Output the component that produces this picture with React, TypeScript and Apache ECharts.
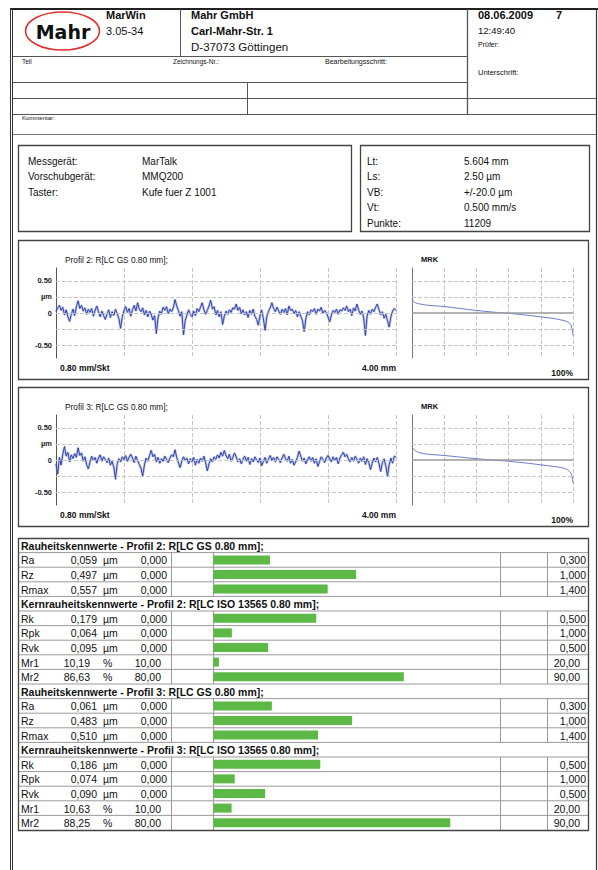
import React, { useEffect, useRef } from 'react';
import * as echarts from 'echarts';

const FONT = '"Liberation Sans", Arial, Helvetica, sans-serif';

// ---------- header / info data ----------
const deviceLabels = ['Messgerät:', 'Vorschubgerät:', 'Taster:'];
const deviceValues = ['MarTalk', 'MMQ200', 'Kufe fuer Z 1001'];
const paramLabels = ['Lt:', 'Ls:', 'VB:', 'Vt:', 'Punkte:'];
const paramValues = ['5.604 mm', '2.50 µm', '+/-20.0 µm', '0.500 mm/s', '11209'];

// ---------- profile data (µm), sampled every 0.02 mm over 4.00 mm ----------
const profileStep = 0.02;
const profile2 = [
  0.02, 0.08, 0.12, 0.04, 0.09, -0.03, 0.05, -0.06, -0.13, -0.02,
  0.06, -0.04, 0.10, 0.19, 0.07, 0.12, 0.03, 0.08, -0.02, 0.06,
  0.01, 0.07, -0.05, 0.04, 0.11, 0.02, -0.06, 0.03, -0.04, -0.10,
  -0.02, 0.05, -0.07, 0.02, -0.04, 0.06, -0.01, -0.09, -0.24, -0.06,
  0.04, 0.10, 0.01, 0.07, -0.05, 0.05, 0.12, 0.03, 0.16, 0.06,
  0.02, 0.08, -0.03, 0.04, -0.06, 0.03, -0.02, -0.11, -0.04, -0.32,
  -0.08, 0.03, -0.02, 0.09, 0.04, 0.10, -0.01, 0.06, 0.02, 0.08,
  0.21, 0.11, 0.04, -0.05, 0.02, -0.34, -0.12, -0.03, 0.05, -0.02,
  -0.06, 0.03, -0.04, 0.07, 0.02, 0.09, 0.16, 0.05, -0.02, 0.04,
  0.11, 0.20, 0.06, 0.10, -0.03, 0.04, -0.06, 0.02, -0.18, -0.05,
  0.03, -0.02, 0.05, 0.01, 0.08, 0.06, 0.14, 0.04, 0.09, -0.01,
  0.05, -0.03, 0.02, -0.07, 0.04, -0.02, 0.06, -0.05, -0.10, -0.19,
  -0.04, 0.05, -0.09, -0.27, -0.06, 0.03, 0.08, 0.16, 0.07, 0.02,
  0.09, 0.03, -0.02, 0.06, 0.01, 0.07, -0.03, 0.11, 0.04, 0.06,
  -0.01, 0.04, -0.06, 0.02, -0.05, -0.12, -0.29, -0.08, 0.02, -0.03,
  0.05, 0.02, 0.07, -0.02, 0.06, 0.03, 0.09, -0.01, 0.04, 0.01,
  -0.06, -0.14, -0.03, 0.04, 0.01, 0.06, -0.02, 0.05, 0.03, 0.08,
  0.04, 0.11, 0.02, 0.06, -0.04, 0.08, 0.03, 0.14, 0.05, -0.02,
  0.03, -0.08, -0.35, -0.05, 0.04, -0.02, 0.06, 0.02, 0.09, 0.14,
  0.05, -0.03, 0.02, -0.08, -0.02, -0.12, -0.22, -0.06, 0.03, 0.07,
  0.04,
];
const profile3 = [
  -0.06, -0.22, 0.04, -0.08, 0.09, 0.21, 0.06, 0.12, -0.03, 0.08,
  0.02, 0.10, 0.04, 0.19, 0.07, 0.11, -0.02, 0.05, -0.07, -0.14,
  -0.03, 0.06, -0.01, 0.04, -0.05, 0.03, 0.08, -0.02, 0.05, 0.01,
  -0.04, 0.03, -0.08, -0.02, -0.11, -0.30, -0.06, 0.02, -0.03, 0.05,
  0.01, 0.07, -0.02, 0.04, 0.09, 0.03, -0.04, 0.06, -0.01, -0.07,
  -0.13, -0.25, -0.08, 0.03, -0.02, 0.07, 0.15, 0.05, 0.09, -0.03,
  0.04, -0.05, 0.02, -0.02, 0.06, 0.01, -0.04, 0.03, 0.08, 0.05,
  0.16, 0.04, -0.04, -0.12, -0.02, 0.05, -0.01, 0.03, -0.06, 0.02,
  -0.03, 0.04, -0.08, 0.01, -0.05, 0.03, -0.02, 0.06, -0.04, -0.17,
  -0.06, 0.02, -0.03, 0.05, 0.01, 0.08, 0.03, 0.12, 0.06, 0.15,
  0.07, 0.02, 0.09, -0.02, 0.04, 0.11, 0.05, -0.03, 0.02, -0.06,
  0.01, 0.06, -0.02, 0.04, -0.07, 0.02, -0.03, 0.05, 0.00, -0.04,
  0.03, -0.09, -0.02, 0.04, -0.05, 0.02, 0.07, -0.01, 0.04, -0.03,
  0.05, 0.01, -0.04, 0.03, 0.09, 0.02, -0.02, 0.06, -0.05, 0.01,
  -0.08, -0.03, 0.04, 0.14, 0.06, -0.02, 0.03, -0.06, 0.01, 0.05,
  -0.02, 0.04, -0.05, 0.02, -0.10, -0.03, 0.05, 0.01, -0.04, 0.03,
  0.07, 0.02, -0.03, 0.05, -0.01, 0.04, -0.06, 0.03, 0.08, 0.12,
  0.05, 0.09, 0.02, -0.03, 0.04, -0.02, 0.06, 0.01, -0.05, 0.03,
  -0.02, 0.05, -0.07, 0.02, -0.04, -0.15, -0.05, 0.03, -0.03, 0.04,
  -0.06, -0.18, -0.04, 0.02, -0.09, -0.25, -0.07, 0.03, -0.05, 0.06,
  0.04,
];

// ---------- material ratio (MRK) curves ----------
const mrkPercent = [0, 1, 2, 4, 7, 10, 15, 20, 30, 40, 50, 60, 70, 80, 88, 93, 96, 98, 99, 99.6, 100];
const mrk2Values = [0.22, 0.18, 0.16, 0.145, 0.13, 0.12, 0.11, 0.10, 0.07, 0.04, 0.015, -0.005, -0.03, -0.06, -0.085, -0.11, -0.13, -0.16, -0.2, -0.27, -0.35];
const mrk3Values = [0.21, 0.17, 0.145, 0.12, 0.10, 0.09, 0.08, 0.07, 0.045, 0.02, 0.0, -0.02, -0.045, -0.075, -0.1, -0.12, -0.145, -0.18, -0.22, -0.28, -0.36];

// ---------- axis ticks ----------
const yTickValues = [0.5, 0.25, 0, -0.5];
const yTickLabels = ['0.50', 'µm', '0', '-0.50'];
const gridLevels = [0.5, 0.25, 0, -0.25, -0.5];

// ---------- table data ----------
const sectionTitles = [
  'Rauheitskennwerte - Profil 2: R[LC GS 0.80 mm];',
  'Kernrauheitskennwerte - Profil 2: R[LC ISO 13565 0.80 mm];',
  'Rauheitskennwerte - Profil 3: R[LC GS 0.80 mm];',
  'Kernrauheitskennwerte - Profil 3: R[LC ISO 13565 0.80 mm];',
];
const roughNames = ['Ra', 'Rz', 'Rmax'];
const roughUnits = ['µm', 'µm', 'µm'];
const roughLower = [0, 0, 0];
const roughUpper = [0.3, 1.0, 1.4];
const coreNames = ['Rk', 'Rpk', 'Rvk', 'Mr1', 'Mr2'];
const coreUnits = ['µm', 'µm', 'µm', '%', '%'];
const coreLower = [0, 0, 0, 10, 80];
const coreUpper = [0.5, 1.0, 0.5, 20, 90];
const p2RoughValues = [0.059, 0.497, 0.557];
const p2CoreValues = [0.179, 0.064, 0.095, 10.19, 86.63];
const p3RoughValues = [0.061, 0.483, 0.51];
const p3CoreValues = [0.186, 0.074, 0.09, 10.63, 88.25];

type Row = { header: boolean; title?: string; name?: string; value?: number; unit?: string; lo?: number; hi?: number };

function buildRows(): Row[] {
  const sections = [
    { t: sectionTitles[0], n: roughNames, v: p2RoughValues, u: roughUnits, lo: roughLower, hi: roughUpper },
    { t: sectionTitles[1], n: coreNames, v: p2CoreValues, u: coreUnits, lo: coreLower, hi: coreUpper },
    { t: sectionTitles[2], n: roughNames, v: p3RoughValues, u: roughUnits, lo: roughLower, hi: roughUpper },
    { t: sectionTitles[3], n: coreNames, v: p3CoreValues, u: coreUnits, lo: coreLower, hi: coreUpper },
  ];
  const rows: Row[] = [];
  sections.forEach((s) => {
    rows.push({ header: true, title: s.t });
    s.n.forEach((name, i) => rows.push({ header: false, name, value: s.v[i], unit: s.u[i], lo: s.lo[i], hi: s.hi[i] }));
  });
  return rows;
}

const fmt = (v: number, unit: string) => v.toFixed(unit === '%' ? 2 : 3).replace('.', ',');

const L = (x1: number, y1: number, x2: number, y2: number, stroke = '#555', lineWidth = 1) => ({
  type: 'line', silent: true, shape: { x1, y1, x2, y2 }, style: { stroke, lineWidth },
});
const T = (x: number, y: number, text: string, size: number, opt: { bold?: boolean; align?: string; fill?: string; family?: string } = {}) => ({
  type: 'text', silent: true, x, y,
  style: {
    text,
    font: `${opt.bold ? 'bold ' : ''}${size}px ${opt.family || FONT}`,
    fill: opt.fill || '#111',
    textAlign: opt.align || 'left',
    textVerticalAlign: 'middle',
  },
});
const R = (x: number, y: number, width: number, height: number, stroke = '#444', lineWidth = 1.3) => ({
  type: 'rect', silent: true, shape: { x, y, width, height }, style: { fill: 'none', stroke, lineWidth },
});

function buildOption() {
  const g: any[] = [];
  // page frame
  g.push(L(10, 9, 598, 9, '#222', 2));
  g.push(L(10.5, 8, 10.5, 870, '#333', 1));
  g.push(L(12.5, 8, 12.5, 870, '#333', 1));
  g.push(L(596.5, 8, 596.5, 870, '#333', 1.2));
  // header grid
  g.push(L(180.5, 9, 180.5, 56, '#555'));
  g.push(L(467.5, 9, 467.5, 114, '#555', 1.3));
  g.push(L(13, 56.5, 467, 56.5, '#555'));
  g.push(L(13, 82.5, 467, 82.5, '#555'));
  g.push(L(13, 98.5, 596, 98.5, '#555'));
  g.push(L(13, 114.5, 596, 114.5, '#555'));
  g.push(L(247.5, 82, 247.5, 114, '#555'));
  g.push(L(13, 134.5, 596, 134.5, '#777'));
  // logo
  g.push({ type: 'ellipse', silent: true, shape: { cx: 62.5, cy: 31, rx: 37, ry: 19 }, style: { fill: 'none', stroke: '#e0302b', lineWidth: 1.6 } });
  g.push(T(63, 32, 'Mahr', 19, { bold: true, align: 'center', family: '"DejaVu Sans", Arial, sans-serif' }));
  g.push(T(106, 15, 'MarWin', 11, { bold: true }));
  g.push(T(106, 31, '3.05-34', 11));
  g.push(T(191, 15, 'Mahr GmbH', 11, { bold: true }));
  g.push(T(191, 31, 'Carl-Mahr-Str. 1', 11, { bold: true }));
  g.push(T(191, 47, 'D-37073 Göttingen', 11.5));
  g.push(T(478, 15, '08.06.2009', 11, { bold: true }));
  g.push(T(556, 15, '7', 11, { bold: true }));
  g.push(T(478, 30, '12:49:40', 9.5));
  g.push(T(478, 44, 'Prüfer:', 7));
  g.push(T(478, 72, 'Unterschrift:', 7.5));
  g.push(T(22, 61, 'Teil', 6.5));
  g.push(T(173, 61, 'Zeichnungs-Nr.:', 6.5));
  g.push(T(325, 61, 'Bearbeitungsschritt:', 7));
  g.push(T(22, 118, 'Kommentar:', 6));
  // info boxes
  g.push(R(18.5, 145.5, 333, 86));
  g.push(R(360.5, 145.5, 229, 86));
  deviceLabels.forEach((t, i) => {
    g.push(T(28, 161 + i * 15.5, t, 10));
    g.push(T(142, 161 + i * 15.5, deviceValues[i], 10));
  });
  paramLabels.forEach((t, i) => {
    g.push(T(367, 161 + i * 15.5, t, 10));
    g.push(T(464, 161 + i * 15.5, paramValues[i], 10));
  });
  // profile panels
  const panelTops = [240.5, 387.5];
  const panelNames = ['Profil 2: R[LC GS 0.80 mm];', 'Profil 3: R[LC GS 0.80 mm];'];
  panelTops.forEach((pt, k) => {
    const dy = k * 147;
    g.push(R(18.5, pt, 570, 139));
    g.push(T(65, 260 + dy, panelNames[k], 8.3));
    g.push(T(421, 259 + dy, 'MRK', 7.5, { bold: true }));
    g.push(T(60, 368 + dy, '0.80 mm/Skt', 8.5, { bold: true }));
    g.push(T(396, 368 + dy, '4.00 mm', 8.5, { bold: true, align: 'right' }));
    g.push(T(573, 373 + dy, '100%', 8.5, { bold: true, align: 'right' }));
  });

  // table
  const rows = buildRows();
  const tableTop = 538;
  const rowH = 14.6;
  const tableH = rowH * rows.length;
  rows.forEach((r, i) => {
    const yT = tableTop + i * rowH;
    const yc = yT + rowH / 2 + 0.5;
    if (i > 0) g.push(L(19, yT, 588, yT, '#9a9a9a'));
    if (r.header) {
      g.push(T(21, yc, r.title!, 10.5, { bold: true }));
    } else {
      [171, 213, 500, 547].forEach((x) => g.push(L(x + 0.5, yT, x + 0.5, yT + rowH, '#9a9a9a')));
      const two = r.unit === '%';
      g.push(T(21, yc, r.name!, 10.5));
      g.push(T(two ? 90 : 97, yc, fmt(r.value!, r.unit!), 10.5, { align: 'right' }));
      g.push(T(103, yc, r.unit!, 10.5));
      g.push(T(two ? 161 : 167, yc, fmt(r.lo!, r.unit!), 10.5, { align: 'right' }));
      g.push(T(two ? 580 : 586, yc, fmt(r.hi!, r.unit!), 10.5, { align: 'right' }));
    }
  });
  g.push(R(18.5, tableTop + 0.5, 570, tableH, '#444', 1.3));

  const dashed = { type: 'dashed', color: '#c6c6c6', width: 1 };
  const profileGrids = [
    { left: 56, top: 268, width: 340, height: 90 },
    { left: 412, top: 268, width: 161, height: 90 },
    { left: 56, top: 415, width: 340, height: 90 },
    { left: 412, top: 415, width: 161, height: 90 },
  ];
  const grids: any[] = [...profileGrids, { left: 213.5, top: tableTop, width: 287, height: tableH }];

  const xAxes: any[] = [];
  const yAxes: any[] = [];
  profileGrids.forEach((_, gi) => {
    const isMrk = gi % 2 === 1;
    xAxes.push({
      gridIndex: gi, type: 'value', min: 0, max: isMrk ? 100 : 4, interval: isMrk ? 20 : 0.8,
      axisLine: { show: false }, axisTick: { show: false }, axisLabel: { show: false },
      splitLine: { show: true, lineStyle: dashed },
    });
    yAxes.push({
      gridIndex: gi, type: 'value', min: -0.7, max: 0.7,
      axisLine: { show: true, onZero: false, lineStyle: { color: isMrk ? '#777' : '#555', width: 1 } },
      axisTick: { show: false }, splitLine: { show: false },
      axisLabel: isMrk ? { show: false } : {
        show: true, customValues: yTickValues, margin: 4, fontSize: 7.5, fontWeight: 'bold', color: '#222', fontFamily: FONT,
        formatter: (v: number) => {
          const idx = yTickValues.findIndex((t) => Math.abs(t - v) < 1e-6);
          return idx >= 0 ? yTickLabels[idx] : '';
        },
      },
    });
  });
  xAxes.push({ gridIndex: 4, type: 'value', min: 0, max: 1, show: false });
  yAxes.push({ gridIndex: 4, type: 'category', inverse: true, show: false, data: rows.map((_, i) => String(i)) });

  const series: any[] = [];
  const profiles = [profile2, profile3];
  const mrks = [mrk2Values, mrk3Values];
  [0, 1].forEach((k) => {
    const gp = k * 2;
    const gm = k * 2 + 1;
    const pdata = profiles[k].map((v, i) => [i * profileStep, v]);
    series.push({
      type: 'line', xAxisIndex: gp, yAxisIndex: gp, data: [], silent: true, z: 1,
      markLine: { silent: true, symbol: ['none', 'none'], label: { show: false }, lineStyle: dashed, animation: false,
        data: gridLevels.map((v) => ({ yAxis: v })) },
    });
    series.push({
      type: 'line', xAxisIndex: gp, yAxisIndex: gp, z: 2, symbol: 'none', showSymbol: false, silent: true,
      lineStyle: { color: 'rgba(120,135,210,0.45)', width: 2.6 },
      data: pdata,
    });
    series.push({
      type: 'line', xAxisIndex: gp, yAxisIndex: gp, z: 3, symbol: 'none', showSymbol: false, silent: true,
      lineStyle: { color: '#3646a8', width: 1 },
      data: pdata,
    });
    series.push({
      type: 'line', xAxisIndex: gm, yAxisIndex: gm, data: [], silent: true, z: 1,
      markLine: { silent: true, symbol: ['none', 'none'], label: { show: false }, animation: false,
        data: gridLevels.map((v) => ({ yAxis: v, lineStyle: v === 0 ? { type: 'solid', color: '#9a9a9a', width: 1.5 } : dashed })) },
    });
    series.push({
      type: 'line', xAxisIndex: gm, yAxisIndex: gm, z: 3, symbol: 'none', showSymbol: false, silent: true, smooth: 0.3,
      lineStyle: { color: '#6a78cc', width: 1 },
      data: mrkPercent.map((p, i) => [p, mrks[k][i]]),
    });
  });
  series.push({
    type: 'bar', xAxisIndex: 4, yAxisIndex: 4, barWidth: 9, silent: true,
    itemStyle: { color: '#5cb946' },
    data: rows.map((r) => (r.header ? '-' : (r.value! - r.lo!) / (r.hi! - r.lo!))),
  });

  return {
    animation: false,
    backgroundColor: '#fff',
    grid: grids,
    xAxis: xAxes,
    yAxis: yAxes,
    series,
    graphic: { elements: g },
  };
}

export default function App() {
  const ref = useRef<HTMLDivElement>(null);
  useEffect(() => {
    document.body.style.margin = '0';
    const chart = echarts.init(ref.current!, null, { renderer: 'svg' });
    chart.setOption(buildOption() as any);
    return () => chart.dispose();
  }, []);
  return <div ref={ref} style={{ width: 598, height: 870, position: 'absolute', left: 0, top: 0, background: '#fff' }} />;
}
